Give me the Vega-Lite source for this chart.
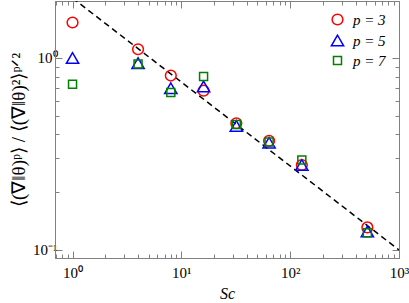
{
  "$schema": "https://vega.github.io/schema/vega-lite/v6.json",
  "width": 344,
  "height": 257,
  "autosize": {"type": "none"},
  "padding": {"left": 55, "top": 1, "right": 10, "bottom": 45},
  "background": "white",
  "config": {
    "view": {"stroke": "#808080", "strokeWidth": 1},
    "axis": {
      "domainColor": "#808080",
      "tickColor": "#808080",
      "grid": false,
      "labelFont": "Liberation Serif",
      "labelFontSize": 15,
      "labelColor": "#000000",
      "titleFont": "Liberation Serif",
      "titleFontWeight": "normal",
      "titleColor": "#000000"
    }
  },
  "layer": [
    {
      "data": {"values": [{"Sc": 1, "v": 2.05}, {"Sc": 1000, "v": 0.1}]},
      "mark": {"type": "line", "color": "#000000", "strokeWidth": 1.5, "strokeDash": [6, 4], "clip": true},
      "encoding": {
        "x": {
          "field": "Sc", "type": "quantitative",
          "scale": {"type": "log", "domain": [0.69, 1000], "nice": false},
          "axis": {
            "orient": "bottom",
            "values": [0.7, 0.8, 0.9, 1, 2, 3, 4, 5, 6, 7, 8, 9, 10, 20, 30, 40, 50, 60, 70, 80, 90, 100, 200, 300, 400, 500, 600, 700, 800, 900, 1000],
            "labelExpr": "datum.value==1?'10⁰':datum.value==10?'10¹':datum.value==100?'10²':datum.value==1000?'10³':''",
            "labelFlush": false,
            "labelOverlap": false,
            "tickSize": {"condition": {"test": "datum.value==1||datum.value==10||datum.value==100||datum.value==1000", "value": -7}, "value": -4},
            "labelPadding": 14,
            "title": "Sc",
            "titleFontStyle": "italic",
            "titleFontSize": 16,
            "titlePadding": 2
          }
        },
        "y": {
          "field": "v", "type": "quantitative",
          "scale": {"type": "log", "domain": [0.0908, 1.98], "nice": false},
          "axis": {
            "orient": "left",
            "values": [0.1, 0.2, 0.3, 0.4, 0.5, 0.6, 0.7, 0.8, 0.9, 1],
            "labelExpr": "datum.value==1?'10⁰':datum.value==0.1?'10⁻¹':''",
            "labelOverlap": false,
            "labelFlush": false,
            "tickSize": {"condition": {"test": "datum.value==1||datum.value==0.1", "value": -7}, "value": -4},
            "labelPadding": 5,
            "title": "⟨(∇‖θ)ᵖ⟩ / ⟨(∇‖θ)²⟩ᵖᐟ²",
            "titleFontSize": 19,
            "titlePadding": 4
          }
        }
      }
    },
    {
      "data": {
        "values": [
          {"Sc": 1, "p": "p = 3", "v": 1.53},
          {"Sc": 1, "p": "p = 5", "v": 1.0},
          {"Sc": 1, "p": "p = 7", "v": 0.73},
          {"Sc": 4, "p": "p = 3", "v": 1.11},
          {"Sc": 4, "p": "p = 5", "v": 0.94},
          {"Sc": 4, "p": "p = 7", "v": 0.93},
          {"Sc": 8, "p": "p = 3", "v": 0.81},
          {"Sc": 8, "p": "p = 5", "v": 0.695},
          {"Sc": 8, "p": "p = 7", "v": 0.66},
          {"Sc": 16, "p": "p = 3", "v": 0.675},
          {"Sc": 16, "p": "p = 5", "v": 0.71},
          {"Sc": 16, "p": "p = 7", "v": 0.8},
          {"Sc": 32, "p": "p = 3", "v": 0.457},
          {"Sc": 32, "p": "p = 5", "v": 0.443},
          {"Sc": 32, "p": "p = 7", "v": 0.45},
          {"Sc": 64, "p": "p = 3", "v": 0.37},
          {"Sc": 64, "p": "p = 5", "v": 0.362},
          {"Sc": 64, "p": "p = 7", "v": 0.365},
          {"Sc": 128, "p": "p = 3", "v": 0.277},
          {"Sc": 128, "p": "p = 5", "v": 0.277},
          {"Sc": 128, "p": "p = 7", "v": 0.294},
          {"Sc": 512, "p": "p = 3", "v": 0.131},
          {"Sc": 512, "p": "p = 5", "v": 0.125},
          {"Sc": 512, "p": "p = 7", "v": 0.123}
        ]
      },
      "mark": {"type": "point", "filled": false, "strokeWidth": 1.5, "opacity": 1},
      "encoding": {
        "x": {
          "field": "Sc", "type": "quantitative",
          "axis": {
            "orient": "top",
            "values": [0.7, 0.8, 0.9, 1, 2, 3, 4, 5, 6, 7, 8, 9, 10, 20, 30, 40, 50, 60, 70, 80, 90, 100, 200, 300, 400, 500, 600, 700, 800, 900, 1000],
            "labels": false,
            "title": null,
            "tickSize": {"condition": {"test": "datum.value==1||datum.value==10||datum.value==100||datum.value==1000", "value": -7}, "value": -4}
          }
        },
        "y": {
          "field": "v", "type": "quantitative",
          "axis": {
            "orient": "right",
            "values": [0.1, 0.2, 0.3, 0.4, 0.5, 0.6, 0.7, 0.8, 0.9, 1],
            "labels": false,
            "title": null,
            "tickSize": {"condition": {"test": "datum.value==1||datum.value==0.1", "value": -7}, "value": -4}
          }
        },
        "color": {
          "field": "p", "type": "nominal",
          "scale": {"domain": ["p = 3", "p = 5", "p = 7"], "range": ["#ff0000", "#0000ff", "#008000"]},
          "legend": {
            "title": null,
            "orient": "none",
            "legendX": 275,
            "legendY": 11,
            "labelFont": "Liberation Serif",
            "labelFontSize": 15,
            "labelFontStyle": "italic",
            "labelColor": "#000000",
            "symbolStrokeWidth": 1.5,
            "rowPadding": 4,
            "labelOffset": 8
          }
        },
        "shape": {
          "field": "p", "type": "nominal",
          "scale": {"domain": ["p = 3", "p = 5", "p = 7"], "range": ["circle", "triangle-up", "square"]}
        },
        "size": {
          "field": "p", "type": "ordinal",
          "scale": {"type": "ordinal", "domain": ["p = 3", "p = 5", "p = 7"], "range": [115, 150, 64]}
        }
      }
    }
  ]
}
